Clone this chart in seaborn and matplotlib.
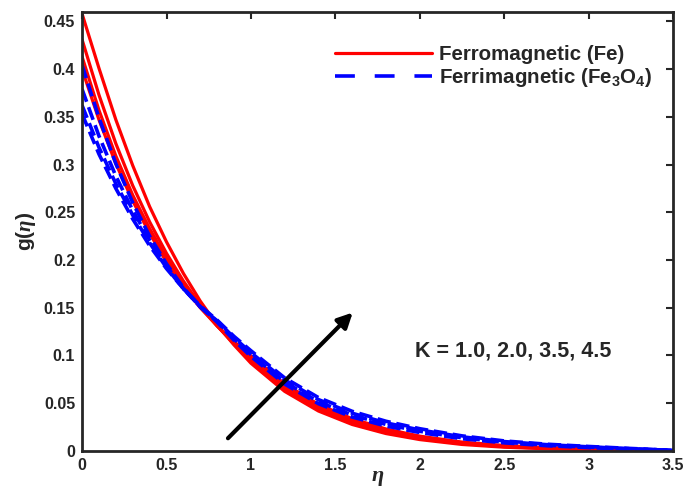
import numpy as np
import pandas as pd
import matplotlib
matplotlib.use('Agg')
import matplotlib.pyplot as plt
import seaborn as sns

# ── Data ──────────────────────────────────────────────────────────────────────
eta = [0, 0.1, 0.2, 0.3, 0.4, 0.5, 0.6, 0.7, 0.8, 0.9, 1.0, 1.2, 1.4, 1.6,
       1.8, 2.0, 2.25, 2.5, 2.75, 3.0, 3.25, 3.5]

K_values = ['1.0', '2.0', '3.5', '4.5']

# Ferromagnetic (Fe)
fe_k1 = [0.458, 0.401, 0.347, 0.299, 0.256, 0.219, 0.186, 0.157, 0.132, 0.111, 0.0919,
         0.0624, 0.0418, 0.0277, 0.0182, 0.0119, 0.0068, 0.0039, 0.0023, 0.0014, 0.0007, 0.0]
fe_k2 = [0.431, 0.373, 0.322, 0.278, 0.240, 0.207, 0.178, 0.153, 0.131, 0.112, 0.0946,
         0.0649, 0.0441, 0.0297, 0.0198, 0.0131, 0.0077, 0.0045, 0.0027, 0.0017, 0.0008, 0.0]
fe_k3 = [0.413, 0.357, 0.309, 0.268, 0.233, 0.202, 0.175, 0.151, 0.131, 0.113, 0.0972,
         0.0675, 0.0465, 0.0317, 0.0214, 0.0143, 0.0085, 0.0051, 0.0031, 0.0019, 0.0010, 0.0]
fe_k4 = [0.400, 0.347, 0.301, 0.262, 0.228, 0.198, 0.172, 0.150, 0.131, 0.1145, 0.0995,
         0.0702, 0.0488, 0.0337, 0.0230, 0.0155, 0.0093, 0.0057, 0.0035, 0.0022, 0.0011, 0.0]

# Ferrimagnetic (Fe3O4)
fe3o4_k1 = [0.404, 0.349, 0.301, 0.260, 0.225, 0.196, 0.171, 0.151, 0.135, 0.116, 0.099,
            0.0701, 0.0495, 0.0355, 0.0261, 0.0193, 0.0128, 0.0085, 0.0055, 0.0035, 0.0018, 0.0003]
fe3o4_k2 = [0.379, 0.330, 0.288, 0.252, 0.221, 0.194, 0.170, 0.151, 0.1357, 0.1173, 0.101,
            0.0722, 0.0516, 0.0375, 0.0278, 0.0206, 0.0138, 0.0092, 0.0060, 0.0039, 0.0021, 0.0004]
fe3o4_k3 = [0.362, 0.318, 0.280, 0.247, 0.218, 0.192, 0.170, 0.151, 0.1363, 0.1187, 0.103,
            0.0744, 0.0538, 0.0395, 0.0294, 0.022, 0.0148, 0.0098, 0.0066, 0.0043, 0.0023, 0.0006]
fe3o4_k4 = [0.353, 0.311, 0.275, 0.243, 0.215, 0.191, 0.170, 0.152, 0.137, 0.120, 0.105,
            0.0765, 0.0559, 0.0415, 0.0311, 0.0233, 0.0158, 0.0105, 0.0071, 0.0047, 0.0026, 0.0007]

fe_curves = [fe_k1, fe_k2, fe_k3, fe_k4]
fe3o4_curves = [fe3o4_k1, fe3o4_k2, fe3o4_k3, fe3o4_k4]

# ── Style ─────────────────────────────────────────────────────────────────────
sns.set_theme(style='white')
plt.rcParams['font.family'] = ['Liberation Sans', 'DejaVu Sans']
plt.rcParams['font.weight'] = 'bold'
plt.rcParams['mathtext.fontset'] = 'custom'
plt.rcParams['mathtext.rm'] = 'Liberation Sans:bold'
plt.rcParams['mathtext.bf'] = 'Liberation Sans:bold'
plt.rcParams['mathtext.it'] = 'Liberation Serif:italic'

fig = plt.figure(figsize=(6.84, 4.95), dpi=100)
ax = fig.add_axes([0.12, 0.089, 0.864, 0.887])

dash = (4, 1.6)
for i, g in enumerate(fe_curves):
    sns.lineplot(x=eta, y=g, ax=ax, color='#ff0000', lw=2.3,
                 label='Ferromagnetic (Fe)' if i == 0 else None)
for i, g in enumerate(fe3o4_curves):
    sns.lineplot(x=eta, y=g, ax=ax, color='#0000ff', lw=2.6, linestyle='--',
                 dashes=dash,
                 label='Ferrimagnetic (Fe$_{3}$O$_{4}$)' if i == 0 else None)

ax.set_xlim(0, 3.5)
ax.set_ylim(0, 0.46)
ax.set_xticks(np.arange(0, 3.51, 0.5))
ax.set_xticklabels(['0', '0.5', '1', '1.5', '2', '2.5', '3', '3.5'])
ax.set_yticks(np.arange(0, 0.451, 0.05))
ax.set_yticklabels(['0', '0.05', '0.1', '0.15', '0.2', '0.25', '0.3', '0.35', '0.4', '0.45'])
ax.tick_params(direction='in', length=5, width=1.5, top=True, right=True,
               labelsize=11.5, colors='#262626', pad=5)
for lab in ax.get_xticklabels() + ax.get_yticklabels():
    lab.set_fontweight('bold')
for sp in ax.spines.values():
    sp.set_linewidth(2)
    sp.set_color('#262626')

ax.set_xlabel(r'$\eta$', fontsize=16, labelpad=-4)
ax.set_ylabel(r'g($\eta$)', fontsize=15, fontweight='bold', labelpad=4)

# arrow + annotation
ax.annotate('', xy=(1.603, 0.145), xytext=(0.864, 0.0133),
            arrowprops=dict(arrowstyle='-|>', color='black', lw=3,
                            mutation_scale=22, shrinkA=0, shrinkB=0))
ax.text(1.97, 0.105, 'K = 1.0, 2.0, 3.5, 4.5', fontsize=15.5, fontweight='bold',
        va='center', ha='left')

leg = ax.legend(loc='upper left', bbox_to_anchor=(0.4146, 0.943), frameon=False,
                fontsize=14.8, handlelength=4.7, handletextpad=0.35,
                labelspacing=0.1, borderaxespad=0)
for t in leg.get_texts():
    t.set_fontweight('bold')
# legend dashes look longer/sparser than on the curves
leg.get_lines()[1].set_dashes((5.5, 5.5))

plt.savefig('out.png', dpi=100)
plt.close()
